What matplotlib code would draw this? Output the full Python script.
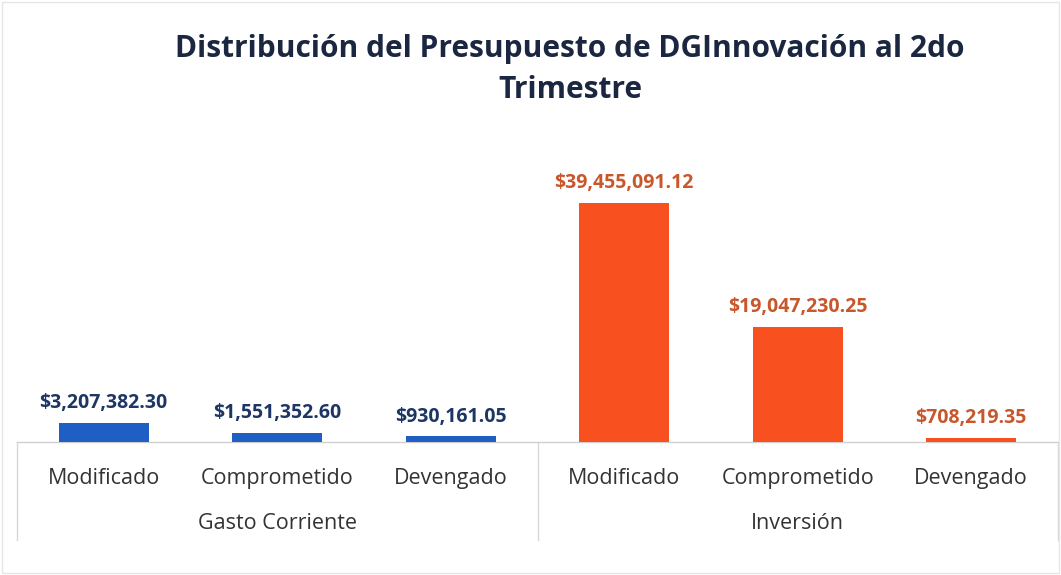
import matplotlib
matplotlib.use("Agg")
import matplotlib.pyplot as plt
import matplotlib.transforms as mtransforms

plt.rcParams['font.family'] = ['Open Sans', 'DejaVu Sans']

categories = ["Modificado", "Comprometido", "Devengado",
              "Modificado", "Comprometido", "Devengado"]
groups = ["Gasto Corriente", "Inversión"]
values = [3207382.30, 1551352.60, 930161.05,
          39455091.12, 19047230.25, 708219.35]
value_labels = ["$3,207,382.30", "$1,551,352.60", "$930,161.05",
                "$39,455,091.12", "$19,047,230.25", "$708,219.35"]
title = "Distribución del Presupuesto de DGInnovación al 2do\nTrimestre"

bar_colors = ["#1f5fc4"] * 3 + ["#f9501f"] * 3
label_colors = ["#1d3664"] * 3 + ["#c8572c"] * 3

W, H = 1061, 575
fig = plt.figure(figsize=(W / 100, H / 100), dpi=100)
fig.patch.set_facecolor("white")
ax = fig.add_axes([17 / W, 1 - 442 / H, (1058 - 17) / W, (442 - 150) / H])

x = list(range(len(categories)))
ax.bar(x, values, width=0.52, color=bar_colors, zorder=3)
ax.set_xlim(-0.5, len(categories) - 0.5)
ax.set_ylim(0, 48.2e6)

for xi, v, lab, c in zip(x, values, value_labels, label_colors):
    ax.annotate(lab, (xi, v), xytext=(0, 7), textcoords="offset points",
                ha="center", va="bottom", fontsize=14, fontweight="bold", color=c)

for s in ["top", "right", "left"]:
    ax.spines[s].set_visible(False)
ax.spines["bottom"].set_color("#d0d0d0")
ax.spines["bottom"].set_linewidth(1)
ax.set_yticks([])
ax.set_xticks(x)
ax.set_xticklabels(categories, fontsize=15.5, color="#333333")
ax.tick_params(axis="x", length=0, pad=19)

trans = mtransforms.blended_transform_factory(ax.transData, ax.transAxes)
for xs in [-0.5, 2.5, 5.5]:
    ax.plot([xs, xs], [0, -0.335], transform=trans, color="#d8d8d8",
            lw=1, clip_on=False)
for gi, g in enumerate(groups):
    ax.text(gi * 3 + 1, -0.28, g, transform=trans, ha="center", va="center",
            fontsize=15.5, color="#333333")

fig.suptitle(title, x=570 / W, y=1 - 34 / H, va="top", fontsize=21.5,
             fontweight="bold", color="#1b2740", linespacing=1.5)

# faint outer frame
fig.add_artist(plt.Rectangle((0.002, 0.003), 0.996, 0.994, transform=fig.transFigure,
                             fill=False, edgecolor="#e6e6e6", lw=1))

fig.savefig("out.png", dpi=100, facecolor="white")
